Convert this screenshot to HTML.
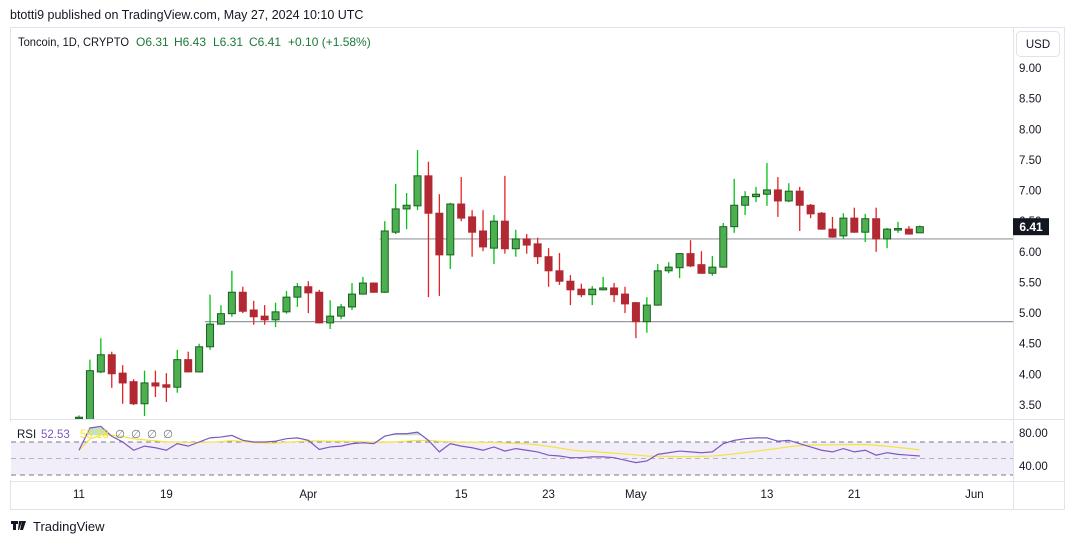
<!DOCTYPE html>
<html><head><meta charset="utf-8">
<style>
body{margin:0;background:#fff;width:1074px;height:545px;overflow:hidden;font-family:"Liberation Sans",sans-serif;}
svg text{font-family:"Liberation Sans",sans-serif;}
</style></head>
<body>
<svg id="chart" width="1074" height="545" xmlns="http://www.w3.org/2000/svg">
<text x="10" y="19" font-size="12.5" fill="#131722">btotti9 published on TradingView.com, May 27, 2024 10:10 UTC</text>
<rect x="10.5" y="27.5" width="1054" height="482" fill="#fff" stroke="#e0e3eb"/>
<line x1="1013.5" y1="28" x2="1013.5" y2="509" stroke="#e0e3eb"/>
<line x1="11" y1="419.5" x2="1064" y2="419.5" stroke="#e0e3eb"/>
<line x1="11" y1="481.5" x2="1064" y2="481.5" stroke="#e0e3eb"/>
<rect x="9" y="422" width="1003" height="58" fill="#fff"/>
<rect x="11" y="442" width="1002" height="33" fill="#7e57c2" fill-opacity="0.1"/>
<line x1="11" y1="442" x2="1013" y2="442" stroke="#787b86" stroke-dasharray="5,4"/>
<line x1="11" y1="458.5" x2="1013" y2="458.5" stroke="#b2b5be" stroke-dasharray="5,4"/>
<line x1="11" y1="475" x2="1013" y2="475" stroke="#787b86" stroke-dasharray="5,4"/>
<g id="pane"></g>
<g font-size="12">
<text x="18" y="46" fill="#131722" textLength="111" lengthAdjust="spacingAndGlyphs">Toncoin, 1D, CRYPTO</text>
<text x="136" y="46" fill="#1b7a3a">O6.31</text>
<text x="174" y="46" fill="#1b7a3a">H6.43</text>
<text x="213" y="46" fill="#1b7a3a">L6.31</text>
<text x="249" y="46" fill="#1b7a3a">C6.41</text>
<text x="288" y="46" fill="#1b7a3a">+0.10 (+1.58%)</text>
</g>
<rect x="1016.5" y="31.5" width="43" height="25" rx="4" fill="#fff" stroke="#e0e3eb"/>
<text x="1038" y="48" font-size="11.5" fill="#131722" text-anchor="middle">USD</text>
<text x="17" y="438" font-size="11.5" fill="#131722">RSI</text>
<text x="41" y="438" font-size="11.5" fill="#7e57c2">52.53</text>
<text x="80" y="438" font-size="11.5" fill="#f5e33b">55.18</text>
<text x="115" y="438" font-size="11.5" fill="#787b86" letter-spacing="6">∅∅∅∅</text>
<text x="1019" y="437" font-size="11.5" fill="#131722">80.00</text>
<text x="1019" y="470" font-size="11.5" fill="#131722">40.00</text>
<g>
<path d="M11 521h7v3h-2v6h-3v-6h-2z M19 521h3l-3 9h-1z M22 521h4l-3 9h-3z" fill="#131722"/>
<text x="33" y="531" font-size="13" fill="#131722">TradingView</text>
</g>
</svg>
<script>
const dates=["11","19","Apr","15","23","May","13","21","Jun"];
const dateIdx=[0,8,21,35,43,51,63,71,82];
const opens=[3.29,3.20,4.04,4.32,4.02,3.88,3.52,3.86,3.83,3.79,4.24,4.04,4.45,4.82,4.99,5.34,5.05,4.95,4.89,5.02,5.26,5.43,5.34,4.84,4.95,5.10,5.31,5.49,5.34,6.32,6.70,6.75,7.24,6.63,5.95,6.78,6.57,6.34,6.06,6.50,6.05,6.21,6.13,5.92,5.69,5.52,5.39,5.30,5.38,5.41,5.31,5.17,4.86,5.13,5.69,5.74,5.97,5.79,5.65,5.75,6.41,6.76,6.90,6.94,7.01,6.83,6.99,6.76,6.63,6.37,6.26,6.55,6.32,6.54,6.21,6.37,6.37,6.31];
const highs=[3.33,4.24,4.59,4.37,4.15,3.92,4.06,4.06,4.02,4.40,4.37,4.50,5.30,5.13,5.69,5.43,5.20,5.13,5.17,5.36,5.49,5.52,5.38,5.21,5.15,5.49,5.59,5.50,6.50,7.11,6.96,7.66,7.47,6.94,6.80,7.22,6.68,6.68,6.60,7.24,6.36,6.29,6.23,6.06,5.98,5.62,5.48,5.44,5.59,5.49,5.43,5.18,5.26,5.80,5.83,5.98,6.19,6.01,5.93,6.47,7.19,6.99,7.06,7.45,7.22,7.12,7.06,6.78,6.65,6.57,6.63,6.72,6.62,6.72,6.39,6.49,6.42,6.43];
const lows=[3.27,3.18,4.02,3.78,3.52,3.50,3.32,3.63,3.55,3.70,4.03,4.03,4.40,4.81,4.94,5.00,4.81,4.81,4.77,4.99,5.10,5.00,4.83,4.74,4.90,5.05,5.30,5.33,5.33,6.29,6.37,6.68,5.26,5.28,5.72,6.50,5.92,6.01,5.80,5.97,5.92,5.97,5.80,5.43,5.46,5.13,5.26,5.13,5.37,5.18,5.00,4.59,4.68,5.12,5.65,5.57,5.75,5.64,5.61,5.74,6.31,6.60,6.81,6.75,6.57,6.81,6.34,6.55,6.36,6.23,6.21,6.31,6.16,6.00,6.06,6.31,6.28,6.31];
const closes=[3.30,4.06,4.32,4.01,3.86,3.52,3.86,3.81,3.79,4.24,4.04,4.45,4.82,4.99,5.34,5.03,4.94,4.89,5.02,5.26,5.43,5.33,4.84,4.95,5.10,5.31,5.49,5.34,6.34,6.70,6.76,7.24,6.63,5.95,6.78,6.55,6.32,6.08,6.50,6.05,6.21,6.11,5.92,5.69,5.52,5.38,5.30,5.39,5.41,5.30,5.15,4.86,5.13,5.69,5.75,5.97,5.77,5.65,5.75,6.41,6.76,6.90,6.94,7.01,6.83,6.99,6.76,6.62,6.37,6.24,6.55,6.32,6.54,6.21,6.37,6.38,6.29,6.41];
const rsi=[60,87,89,77,70,60,65,63,60,68,65,70,75,76,78,72,70,70,71,74,75,72,61,64,65,68,69,68,77,80,80,82,72,58,68,65,63,60,64,59,62,60,58,54,53,51,51,52,52,51,48,45,47,55,57,59,58,57,58,68,72,74,75,75,71,72,68,64,60,58,62,58,60,54,57,55,54,53];
const priceTicks=["9.00","8.50","8.00","7.50","7.00","6.50","6.00","5.50","5.00","4.50","4.00","3.50"];
const hLevels=[6.21,4.86];
const hStart=[28,12];

const NS="http://www.w3.org/2000/svg";
const svg=document.getElementById('chart');
const pane=document.getElementById('pane');
const X=i=>79+i*10.92;
const Y=p=>68+(9-p)*61.27;
const RY=v=>442+(70-v)*0.825;
function mk(t,a,parent){const e=document.createElementNS(NS,t);for(const k in a)e.setAttribute(k,a[k]);(parent||pane).appendChild(e);return e;}
const clip=mk('clipPath',{id:'pc'});mk('rect',{x:11,y:28,width:1002,height:391},clip);
const g=mk('g',{'clip-path':'url(#pc)'});
priceTicks.forEach(t=>{const e=mk('text',{x:1019,y:Y(+t)+4,'font-size':11.5,fill:'#131722'},svg);e.textContent=t;

});
hLevels.forEach((p,k)=>{const l=mk('line',{x1:X(hStart[k])-5,x2:1013,y1:Y(p),y2:Y(p),stroke:'#9598a1','stroke-width':1.2},g);

});
opens.forEach((o,i)=>{const c=closes[i],up=c>=o,x=X(i);
const col=up?'#00c313':'#e52323',body=up?'#4caf50':'#b22833',bor=up?'#1b5e20':'#b22833';
const cg=mk('g',{},g);


mk('line',{x1:x,x2:x,y1:Y(highs[i]),y2:Y(lows[i]),stroke:col,'stroke-width':1.3},cg);
const t=Math.min(Y(o),Y(c)),h=Math.max(1.5,Math.abs(Y(o)-Y(c)));
mk('rect',{x:x-3.5,y:t,width:7,height:h,fill:body,stroke:bor,'stroke-width':1},cg);});
const lp=mk('rect',{x:1013,y:Y(6.41)-8.5,width:36,height:17,fill:'#131722'},svg);


const lt=mk('text',{x:1031,y:Y(6.41)+4.5,'font-size':12,'font-weight':'bold',fill:'#fff','text-anchor':'middle'},svg);lt.textContent='6.41';
const ma=rsi.map((v,i)=>{const s=rsi.slice(Math.max(0,i-13),i+1);return s.reduce((a,b)=>a+b,0)/s.length;});
const rc=mk('clipPath',{id:'rc'});mk('rect',{x:11,y:420,width:1002,height:61},rc);
const rg=mk('g',{'clip-path':'url(#rc)'});
const gc=mk('clipPath',{id:'gc'});mk('rect',{x:11,y:410,width:1002,height:RY(78)-410},gc);
const fill=mk('polygon',{points:rsi.map((v,i)=>X(i)+','+RY(v)).join(' ')+' '+X(rsi.length-1)+','+RY(78)+' '+X(0)+','+RY(78),fill:'#4caf50','fill-opacity':0.35,'clip-path':'url(#gc)'},rg);


const mal=mk('polyline',{points:ma.map((v,i)=>X(i)+','+RY(v)).join(' '),fill:'none',stroke:'#f5e33b','stroke-width':1.2},rg);


const rl=mk('polyline',{points:rsi.map((v,i)=>X(i)+','+RY(v)).join(' '),fill:'none',stroke:'#7e57c2','stroke-width':1.2},rg);


dates.forEach((d,k)=>{const e=mk('text',{x:X(dateIdx[k]),y:498,'font-size':11.5,fill:'#131722','text-anchor':'middle'},svg);e.textContent=d;

});
</script>
</body></html>
